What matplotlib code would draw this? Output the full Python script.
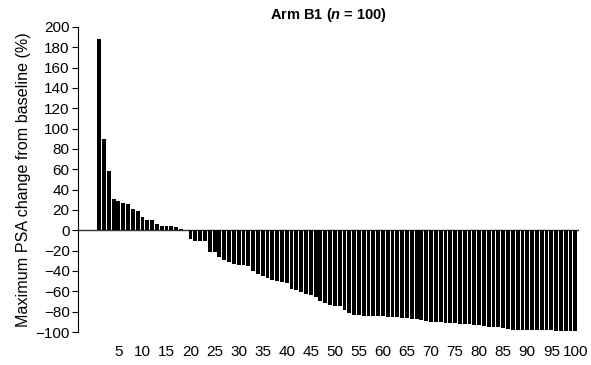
import matplotlib
matplotlib.use("Agg")
import matplotlib.pyplot as plt
import numpy as np

plt.rcParams["font.family"] = ["Liberation Sans", "DejaVu Sans"]
plt.rcParams["mathtext.fontset"] = "custom"
plt.rcParams["mathtext.it"] = "Liberation Sans:italic:bold"
plt.rcParams["mathtext.rm"] = "Liberation Sans:bold"

# patients ordered by max PSA change (waterfall)
patient = np.arange(1, 101)
psa_change = [
    188, 90, 58, 30.5, 29, 27, 26, 21, 19, 13,
    10.5, 10, 6.5, 4.5, 4, 4, 3, 1.5, 0, -9,
    -10.5, -10.5, -11, -21, -21.5, -26.5, -29, -31.5, -33, -34,
    -34.5, -35.5, -40.5, -42.5, -45, -46.5, -48.5, -49.5, -50.5, -51.5,
    -58, -58.8, -60.5, -63, -64, -65.5, -70, -71, -73.3, -74.2,
    -74.5, -78, -81.4, -83, -83.7, -84, -84, -84.4, -84.5, -84.7,
    -84.8, -85, -85.7, -85.8, -86.3, -87.3, -87.5, -88.5, -89, -90,
    -90.3, -90.3, -91, -91.3, -91.5, -92, -92.3, -92.5, -93, -93.6,
    -94, -94.6, -95, -95.5, -96, -97, -97.8, -97.8, -97.8, -97.8,
    -97.8, -97.8, -98, -98.5, -98.5, -99.5, -99.5, -99.5, -99.5, -99.5,
]
xticks = list(range(5, 101, 5))
yticks = list(range(-100, 201, 20))

fig = plt.figure(figsize=(5.91, 3.65), dpi=100)
ax = fig.add_axes([0.132, 0.0904, 0.848, 0.836])

ax.bar(patient, psa_change, width=0.8, color="black", edgecolor="none", zorder=2)
ax.axhline(0, color="#333333", lw=1.0, zorder=1)

ax.set_xlim(-3.4, 100.8)
ax.set_ylim(-100, 200)
ax.set_yticks(yticks)
ax.set_yticklabels([str(v).replace("-", "\u2212") for v in yticks], fontsize=11)
ax.set_xticks(xticks)
ax.set_xticklabels([str(v) for v in xticks], fontsize=11)
ax.tick_params(axis="x", length=0, pad=9)
ax.tick_params(axis="y", direction="out", length=4, width=0.8, pad=2)

for s in ("top", "right", "bottom"):
    ax.spines[s].set_visible(False)
ax.spines["left"].set_linewidth(0.8)

ax.set_ylabel("Maximum PSA change from baseline (%)", fontsize=11.6, labelpad=3)
ax.set_title(r"Arm B1 ($\mathit{n}$ = 100)", fontsize=10.5, fontweight="bold", pad=6)

fig.savefig("out.png", dpi=100)
